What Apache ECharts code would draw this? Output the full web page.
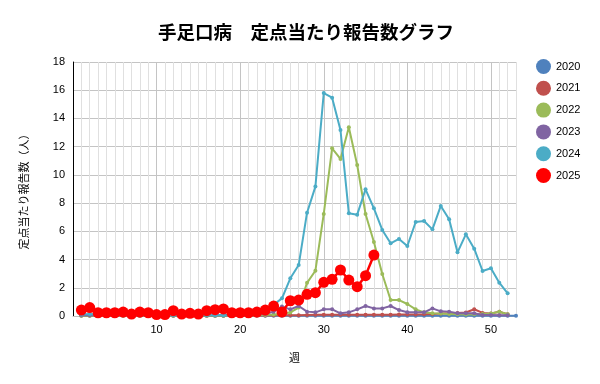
<!DOCTYPE html>
<html><head><meta charset="utf-8">
<script src="https://cdn.jsdelivr.net/npm/echarts@6/dist/echarts.min.js"></script>
<style>html,body{margin:0;padding:0;background:#fff}#c{width:600px;height:384px}</style>
</head><body><div id="c"></div>
<script>
const seriesNames = ['2020','2021','2022','2023','2024','2025'];
const colors = ['#4F81BD','#C0504D','#9BBB59','#8064A2','#4BACC6','#FF0000'];
const yTicks = [0,2,4,6,8,10,12,14,16,18];
const xLabelWeeks = [10,20,30,40,50];

const v2020 = [0.05,0.05,0.04,0.04,0.03,0.03,0.03,0.02,0.02,0.02,0.02,0.02,0.02,0.01,0.01,0.01,0.01,0.01,0.01,0.01,0.01,0.01,0.01,0.01,0.01,0.01,0.01,0.02,0.02,0.02,0.02,0.02,0.02,0.02,0.02,0.02,0.02,0.02,0.02,0.02,0.02,0.02,0.02,0.02,0.02,0.02,0.02,0.02,0.02,0.02,0.02,0.02,0.02];
const v2021 = [0.02,0.02,0.02,0.02,0.02,0.02,0.02,0.02,0.02,0.02,0.02,0.02,0.02,0.02,0.02,0.02,0.02,0.02,0.03,0.03,0.03,0.03,0.04,0.05,0.05,0.06,0.06,0.07,0.08,0.08,0.08,0.08,0.08,0.08,0.08,0.08,0.08,0.08,0.1,0.1,0.1,0.12,0.15,0.18,0.2,0.22,0.25,0.48,0.22,0.18,0.3,0.12];
const v2022 = [0.02,0.02,0.02,0.02,0.02,0.02,0.02,0.02,0.02,0.02,0.02,0.02,0.02,0.02,0.02,0.02,0.02,0.02,0.03,0.03,0.04,0.05,0.07,0.1,0.15,0.25,0.6,2.35,3.21,7.23,11.88,11.13,13.37,10.7,7.23,5.25,2.98,1.13,1.13,0.85,0.47,0.26,0.2,0.18,0.15,0.12,0.1,0.12,0.15,0.18,0.3,0.12];
const v2023 = [0.05,0.05,0.05,0.05,0.05,0.05,0.05,0.05,0.05,0.05,0.05,0.05,0.05,0.05,0.05,0.05,0.06,0.06,0.07,0.08,0.1,0.12,0.15,0.3,0.68,0.47,0.71,0.31,0.26,0.47,0.47,0.19,0.26,0.47,0.71,0.54,0.54,0.71,0.42,0.26,0.26,0.26,0.54,0.33,0.31,0.19,0.19,0.19,0.07,0.07,0.05,0.05];
const v2024 = [0.1,0.15,0.1,0.08,0.06,0.05,0.05,0.05,0.05,0.05,0.05,0.05,0.05,0.05,0.05,0.05,0.05,0.05,0.05,0.05,0.06,0.1,0.3,0.8,1.25,2.67,3.61,7.32,9.17,15.8,15.47,13.18,7.28,7.18,8.98,7.63,6.1,5.15,5.46,4.96,6.66,6.73,6.14,7.8,6.85,4.51,5.79,4.77,3.19,3.38,2.36,1.61];
const v2025 = [0.42,0.6,0.23,0.23,0.23,0.28,0.14,0.28,0.23,0.1,0.1,0.38,0.14,0.19,0.14,0.38,0.45,0.5,0.23,0.23,0.23,0.28,0.42,0.7,0.28,1.08,1.13,1.54,1.65,2.39,2.6,3.26,2.55,2.08,2.86,4.32];

const allValues = [v2020,v2021,v2022,v2023,v2024,v2025];
const toPairs = arr => arr.map((v,i)=>[i+1,v]);

const series = allValues.map((arr,idx)=>{
  const is2025 = idx===5;
  return {
    name: seriesNames[idx], type:'line', data: toPairs(arr),
    symbol:'circle', symbolSize: is2025 ? 11 : 4,
    lineStyle:{width: is2025 ? 2.5 : 2, color: colors[idx]},
    itemStyle:{color: colors[idx]},
    z: 2+idx, animation:false
  };
});

const minorColors = ['#c4c4c4'].concat(Array(9).fill('#e0e0e0'));

const chart = echarts.init(document.getElementById('c'));
chart.setOption({
  animation:false,
  color: colors,
  title:{text:'手足口病　定点当たり報告数グラフ', left:301, textAlign:'center', top:18,
    textStyle:{fontFamily:'Noto Sans CJK JP', fontSize:18.5, fontWeight:'bold', color:'#000'}},
  legend:{orient:'vertical', left:531, top:54, icon:'circle', itemWidth:15, itemHeight:15, itemGap:6.8,
    textStyle:{fontFamily:'Liberation Sans, Arial', fontSize:11, color:'#000'}, data:seriesNames},
  grid:{left:73, right:84, top:62, bottom:68},
  xAxis:{type:'value', min:0, max:53, interval:1,
    name:'週', nameLocation:'middle', nameGap:36,
    nameTextStyle:{fontFamily:'Noto Sans CJK JP', fontSize:11, color:'#000'},
    axisLine:{show:true, lineStyle:{color:'#bfbfbf', width:1}},
    axisTick:{show:false},
    axisLabel:{fontFamily:'Liberation Sans, Arial', fontSize:11, color:'#000', margin:8,
      formatter: v => xLabelWeeks.indexOf(v)>=0 ? String(v) : ''},
    splitLine:{show:true, lineStyle:{color:minorColors, width:1}}},
  yAxis:{type:'value', min:0, max:18, interval:2,
    name:'定点当たり報告数（人）', nameLocation:'middle', nameGap:44, nameRotate:90,
    nameTextStyle:{fontFamily:'Noto Sans CJK JP', fontSize:11, color:'#000'},
    axisLine:{show:true, lineStyle:{color:'#000', width:1}},
    axisTick:{show:false},
    axisLabel:{fontFamily:'Liberation Sans, Arial', fontSize:11, color:'#000', margin:8,
      formatter: v => yTicks.indexOf(v)>=0 ? String(v) : ''},
    splitLine:{show:true, lineStyle:{color:'#c4c4c4', width:1}}},
  series: series
});
</script></body></html>
